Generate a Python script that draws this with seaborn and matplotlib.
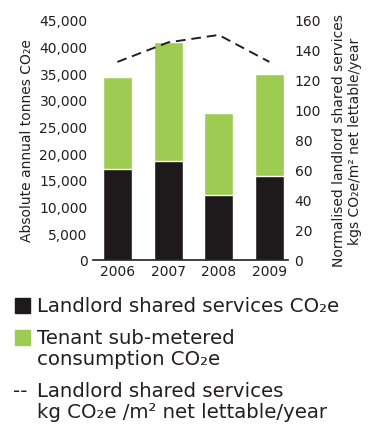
import matplotlib
matplotlib.use("Agg")
import matplotlib.pyplot as plt
import matplotlib.patches as patches
import seaborn as sns
import pandas as pd

years = ["2006", "2007", "2008", "2009"]
landlord = [17100, 18500, 12100, 15800]
total = [34300, 40900, 27500, 34800]
intensity = [132, 145, 150, 132]

black = "#1e1a1c"
green = "#9ecb52"
txt = "#231f20"

sns.set_style("white")
plt.rcParams["font.family"] = ["DejaVu Sans"]

df = pd.DataFrame({"year": years, "landlord": landlord, "total": total, "intensity": intensity})

fig = plt.figure(figsize=(3.74, 4.27), dpi=100)
ax = fig.add_axes([0.249, 0.389, 0.52, 0.562])

sns.barplot(data=df, x="year", y="total", color=green, width=0.57, saturation=1, ax=ax)
sns.barplot(data=df, x="year", y="landlord", color=black, width=0.57, saturation=1, ax=ax)
ax.set_xlim(-0.48, 3.36)
ax.set_ylim(0, 45000)
ax.set_yticks(range(0, 45001, 5000))
ax.set_yticklabels([f"{v:,}" for v in range(0, 45001, 5000)], fontsize=10, color=txt)
ax.tick_params(axis="y", length=0, pad=4)
ax.tick_params(axis="x", length=0, pad=3, labelsize=10, labelcolor=txt)
ax.set_xlabel("")
ax.set_ylabel("Absolute annual tonnes CO₂e", fontsize=10, labelpad=4, color=txt)
for s in ["top", "left", "right"]:
    ax.spines[s].set_visible(False)
ax.spines["bottom"].set_color(txt)
ax.spines["bottom"].set_linewidth(1.2)

ax2 = ax.twinx()
sns.lineplot(x=[0, 1, 2, 3], y=df["intensity"], color=txt, linestyle=(0, (5, 3)), linewidth=1.4, ax=ax2)
ax2.set_ylim(0, 160)
ax2.set_xlim(-0.48, 3.36)
ax2.set_yticks(range(0, 161, 20))
ax2.tick_params(axis="y", length=0, pad=5, labelsize=10, labelcolor=txt)
ax2.set_ylabel("Normalised landlord shared services\nkgs CO₂e/m² net lettable/year", fontsize=10, labelpad=8, color=txt)
for s in ["top", "left", "right", "bottom"]:
    ax2.spines[s].set_visible(False)

fs = 14.2
sq_w, sq_h = 15 / 374, 15 / 427
fig.patches.append(patches.Rectangle((0.04, 0.283 - sq_h / 2), sq_w, sq_h, color=black, transform=fig.transFigure))
fig.patches.append(patches.Rectangle((0.04, 0.207 - sq_h / 2), sq_w, sq_h, color=green, transform=fig.transFigure))
fig.text(0.098, 0.283, "Landlord shared services CO₂e", color=txt, fontsize=fs, va="center")
fig.text(0.098, 0.207, "Tenant sub-metered", color=txt, fontsize=fs, va="center")
fig.text(0.098, 0.157, "consumption CO₂e", color=txt, fontsize=fs, va="center")
fig.text(0.035, 0.083, "--", color=txt, fontsize=fs, va="center")
fig.text(0.098, 0.083, "Landlord shared services", color=txt, fontsize=fs, va="center")
fig.text(0.098, 0.033, "kg CO₂e /m² net lettable/year", color=txt, fontsize=fs, va="center")

fig.savefig("out.png", dpi=100)
